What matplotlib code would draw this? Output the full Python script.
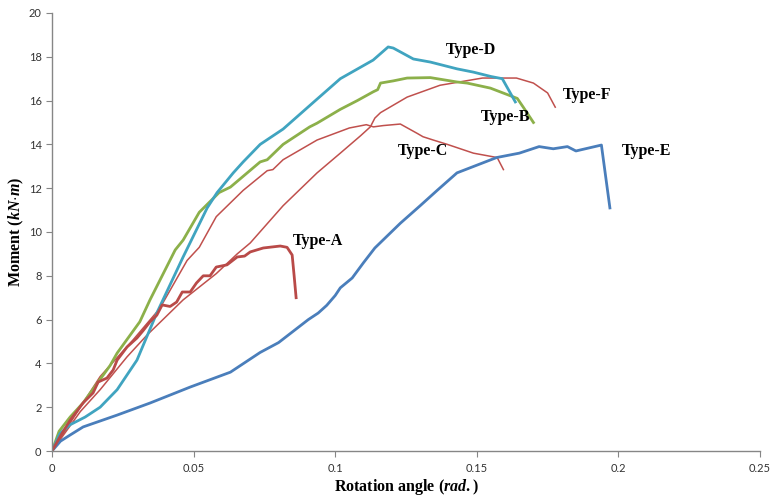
import matplotlib
matplotlib.use('Agg')
import matplotlib.pyplot as plt

# rotation angle (rad.) / moment (kN.m)
type_a_x = [0, 0.0035, 0.0064, 0.011, 0.0145, 0.0163, 0.0194, 0.0216, 0.023, 0.0265, 0.030, 0.0322,
            0.0346, 0.037, 0.0389, 0.0417, 0.044, 0.046, 0.0488, 0.051, 0.0534, 0.0558, 0.058, 0.0618,
            0.0654, 0.068, 0.070, 0.0746, 0.0806, 0.083, 0.0848, 0.0855, 0.0862]
type_a_y = [0, 0.8, 1.4, 2.2, 2.65, 3.15, 3.33, 3.7, 4.15, 4.75, 5.16, 5.5,
            5.9, 6.2, 6.67, 6.6, 6.8, 7.26, 7.26, 7.67, 8.0, 8.0, 8.4, 8.5,
            8.86, 8.9, 9.09, 9.27, 9.36, 9.3, 8.95, 8.0, 7.0]

type_b_x = [0, 0.0025, 0.0064, 0.011, 0.0205, 0.023, 0.031, 0.0346, 0.0435, 0.0463, 0.052, 0.059,
            0.063, 0.0735, 0.076, 0.0816, 0.091, 0.0936, 0.1018, 0.1078, 0.1134, 0.115, 0.116, 0.1205,
            0.1254, 0.1336, 0.143, 0.1466, 0.1548, 0.1643, 0.1664, 0.170]
type_b_y = [0, 0.9, 1.55, 2.2, 3.9, 4.47, 5.9, 6.9, 9.18, 9.63, 10.9, 11.8,
            12.05, 13.2, 13.3, 14.0, 14.8, 14.97, 15.6, 16.0, 16.4, 16.5, 16.8, 16.9,
            17.03, 17.05, 16.85, 16.8, 16.57, 16.1, 15.7, 15.0]

type_c_x = [0, 0.005, 0.010, 0.017, 0.0286, 0.038, 0.0477, 0.052, 0.058, 0.0675, 0.076, 0.078,
            0.0816, 0.0936, 0.105, 0.111, 0.1135, 0.117, 0.123, 0.129, 0.131, 0.1346, 0.1396,
            0.1488, 0.1572, 0.1594]
type_c_y = [0, 1.0, 2.0, 3.4, 5.07, 6.5, 8.7, 9.3, 10.7, 11.9, 12.8, 12.85,
            13.3, 14.2, 14.75, 14.9, 14.8, 14.86, 14.93, 14.5, 14.35, 14.2, 14.0,
            13.6, 13.4, 12.85]

type_d_x = [0, 0.0028, 0.0064, 0.0117, 0.017, 0.023, 0.030, 0.037, 0.0463, 0.0548, 0.0583, 0.064,
            0.0675, 0.0735, 0.0816, 0.093, 0.1018, 0.1134, 0.1187, 0.1205, 0.1276, 0.1336, 0.143,
            0.1488, 0.155, 0.159, 0.1636]
type_d_y = [0, 0.8, 1.2, 1.55, 2.0, 2.8, 4.15, 6.3, 8.86, 11.1, 11.8, 12.7,
            13.2, 14.0, 14.7, 16.0, 17.0, 17.85, 18.45, 18.4, 17.9, 17.76, 17.45,
            17.3, 17.1, 17.0, 15.94]

type_e_x = [0, 0.003, 0.0064, 0.011, 0.023, 0.0346, 0.0488, 0.063, 0.070, 0.0735, 0.080, 0.085,
            0.0905, 0.094, 0.097, 0.100, 0.1018, 0.106, 0.110, 0.114, 0.123, 0.130, 0.136, 0.143,
            0.150, 0.157, 0.165, 0.172, 0.177, 0.182, 0.185, 0.194, 0.197]
type_e_y = [0, 0.45, 0.73, 1.1, 1.64, 2.19, 2.92, 3.6, 4.2, 4.5, 4.95, 5.45,
            6.0, 6.3, 6.65, 7.1, 7.45, 7.9, 8.6, 9.27, 10.4, 11.2, 11.9, 12.7,
            13.05, 13.4, 13.6, 13.9, 13.8, 13.9, 13.7, 13.97, 11.1]

type_f_x = [0, 0.005, 0.010, 0.017, 0.0265, 0.0336, 0.0463, 0.058, 0.0654, 0.070, 0.0816, 0.0936,
            0.1018, 0.109, 0.1124, 0.114, 0.116, 0.1254, 0.137, 0.152, 0.164, 0.170, 0.175, 0.1777]
type_f_y = [0, 0.9, 1.8, 2.8, 4.3, 5.3, 6.9, 8.1, 9.0, 9.5, 11.2, 12.7,
            13.6, 14.4, 14.8, 15.2, 15.45, 16.16, 16.7, 17.03, 17.03, 16.8, 16.35, 15.7]

labels = ['Type-A', 'Type-B', 'Type-C', 'Type-D', 'Type-E', 'Type-F']
label_pos = [(0.094, 9.6), (0.160, 15.25), (0.131, 13.7), (0.148, 18.3), (0.210, 13.7), (0.189, 16.25)]

x_ticks = [0, 0.05, 0.1, 0.15, 0.2, 0.25]
x_tick_labels = ['0', '0.05', '0.1', '0.15', '0.2', '0.25']
y_ticks = [0, 2, 4, 6, 8, 10, 12, 14, 16, 18, 20]

plt.rcParams['mathtext.fontset'] = 'custom'
plt.rcParams['mathtext.rm'] = 'Liberation Serif:bold'
plt.rcParams['mathtext.it'] = 'Liberation Serif:italic:bold'
plt.rcParams['mathtext.bf'] = 'Liberation Serif:bold'

fig = plt.figure(figsize=(7.74, 4.96), dpi=100)
ax = fig.add_axes([52 / 774, 1 - 451 / 496, 708 / 774, 438 / 496])

red = '#C0504D'
ax.plot(type_f_x, type_f_y, color=red, linewidth=1.1)
ax.plot(type_c_x, type_c_y, color=red, linewidth=1.1)
ax.plot(type_e_x, type_e_y, color='#4A7EBB', linewidth=2.0)
ax.plot(type_b_x, type_b_y, color='#8CB04A', linewidth=2.0)
ax.plot(type_d_x, type_d_y, color='#40A4C0', linewidth=2.0)
ax.plot(type_a_x, type_a_y, color='#B94A48', linewidth=2.0)

for lab, (lx, ly) in zip(labels, label_pos):
    ax.text(lx, ly, lab, fontsize=11.5, fontweight='bold', family='Liberation Serif',
            ha='center', va='center', color='black')

ax.set_xlim(0, 0.25)
ax.set_ylim(0, 20)
ax.set_xticks(x_ticks)
ax.set_xticklabels(x_tick_labels)
ax.set_yticks(y_ticks)

for s in ['top', 'right']:
    ax.spines[s].set_visible(False)
for s in ['left', 'bottom']:
    ax.spines[s].set_color('#868686')
    ax.spines[s].set_linewidth(1.0)
ax.tick_params(axis='both', direction='out', length=4, color='#868686',
               labelsize=8, labelcolor='#333333')
ax.tick_params(axis='x', pad=5)
for t in ax.get_xticklabels() + ax.get_yticklabels():
    t.set_family('Lato')

ax.set_xlabel(r'Rotation angle ($rad.$)', fontsize=11.5, fontweight='bold',
              family='Liberation Serif', labelpad=2)
ax.set_ylabel(r'Moment ($kN{\cdot}m$)', fontsize=11.5, fontweight='bold',
              family='Liberation Serif', labelpad=1.5)

fig.savefig('out.png', dpi=100)
